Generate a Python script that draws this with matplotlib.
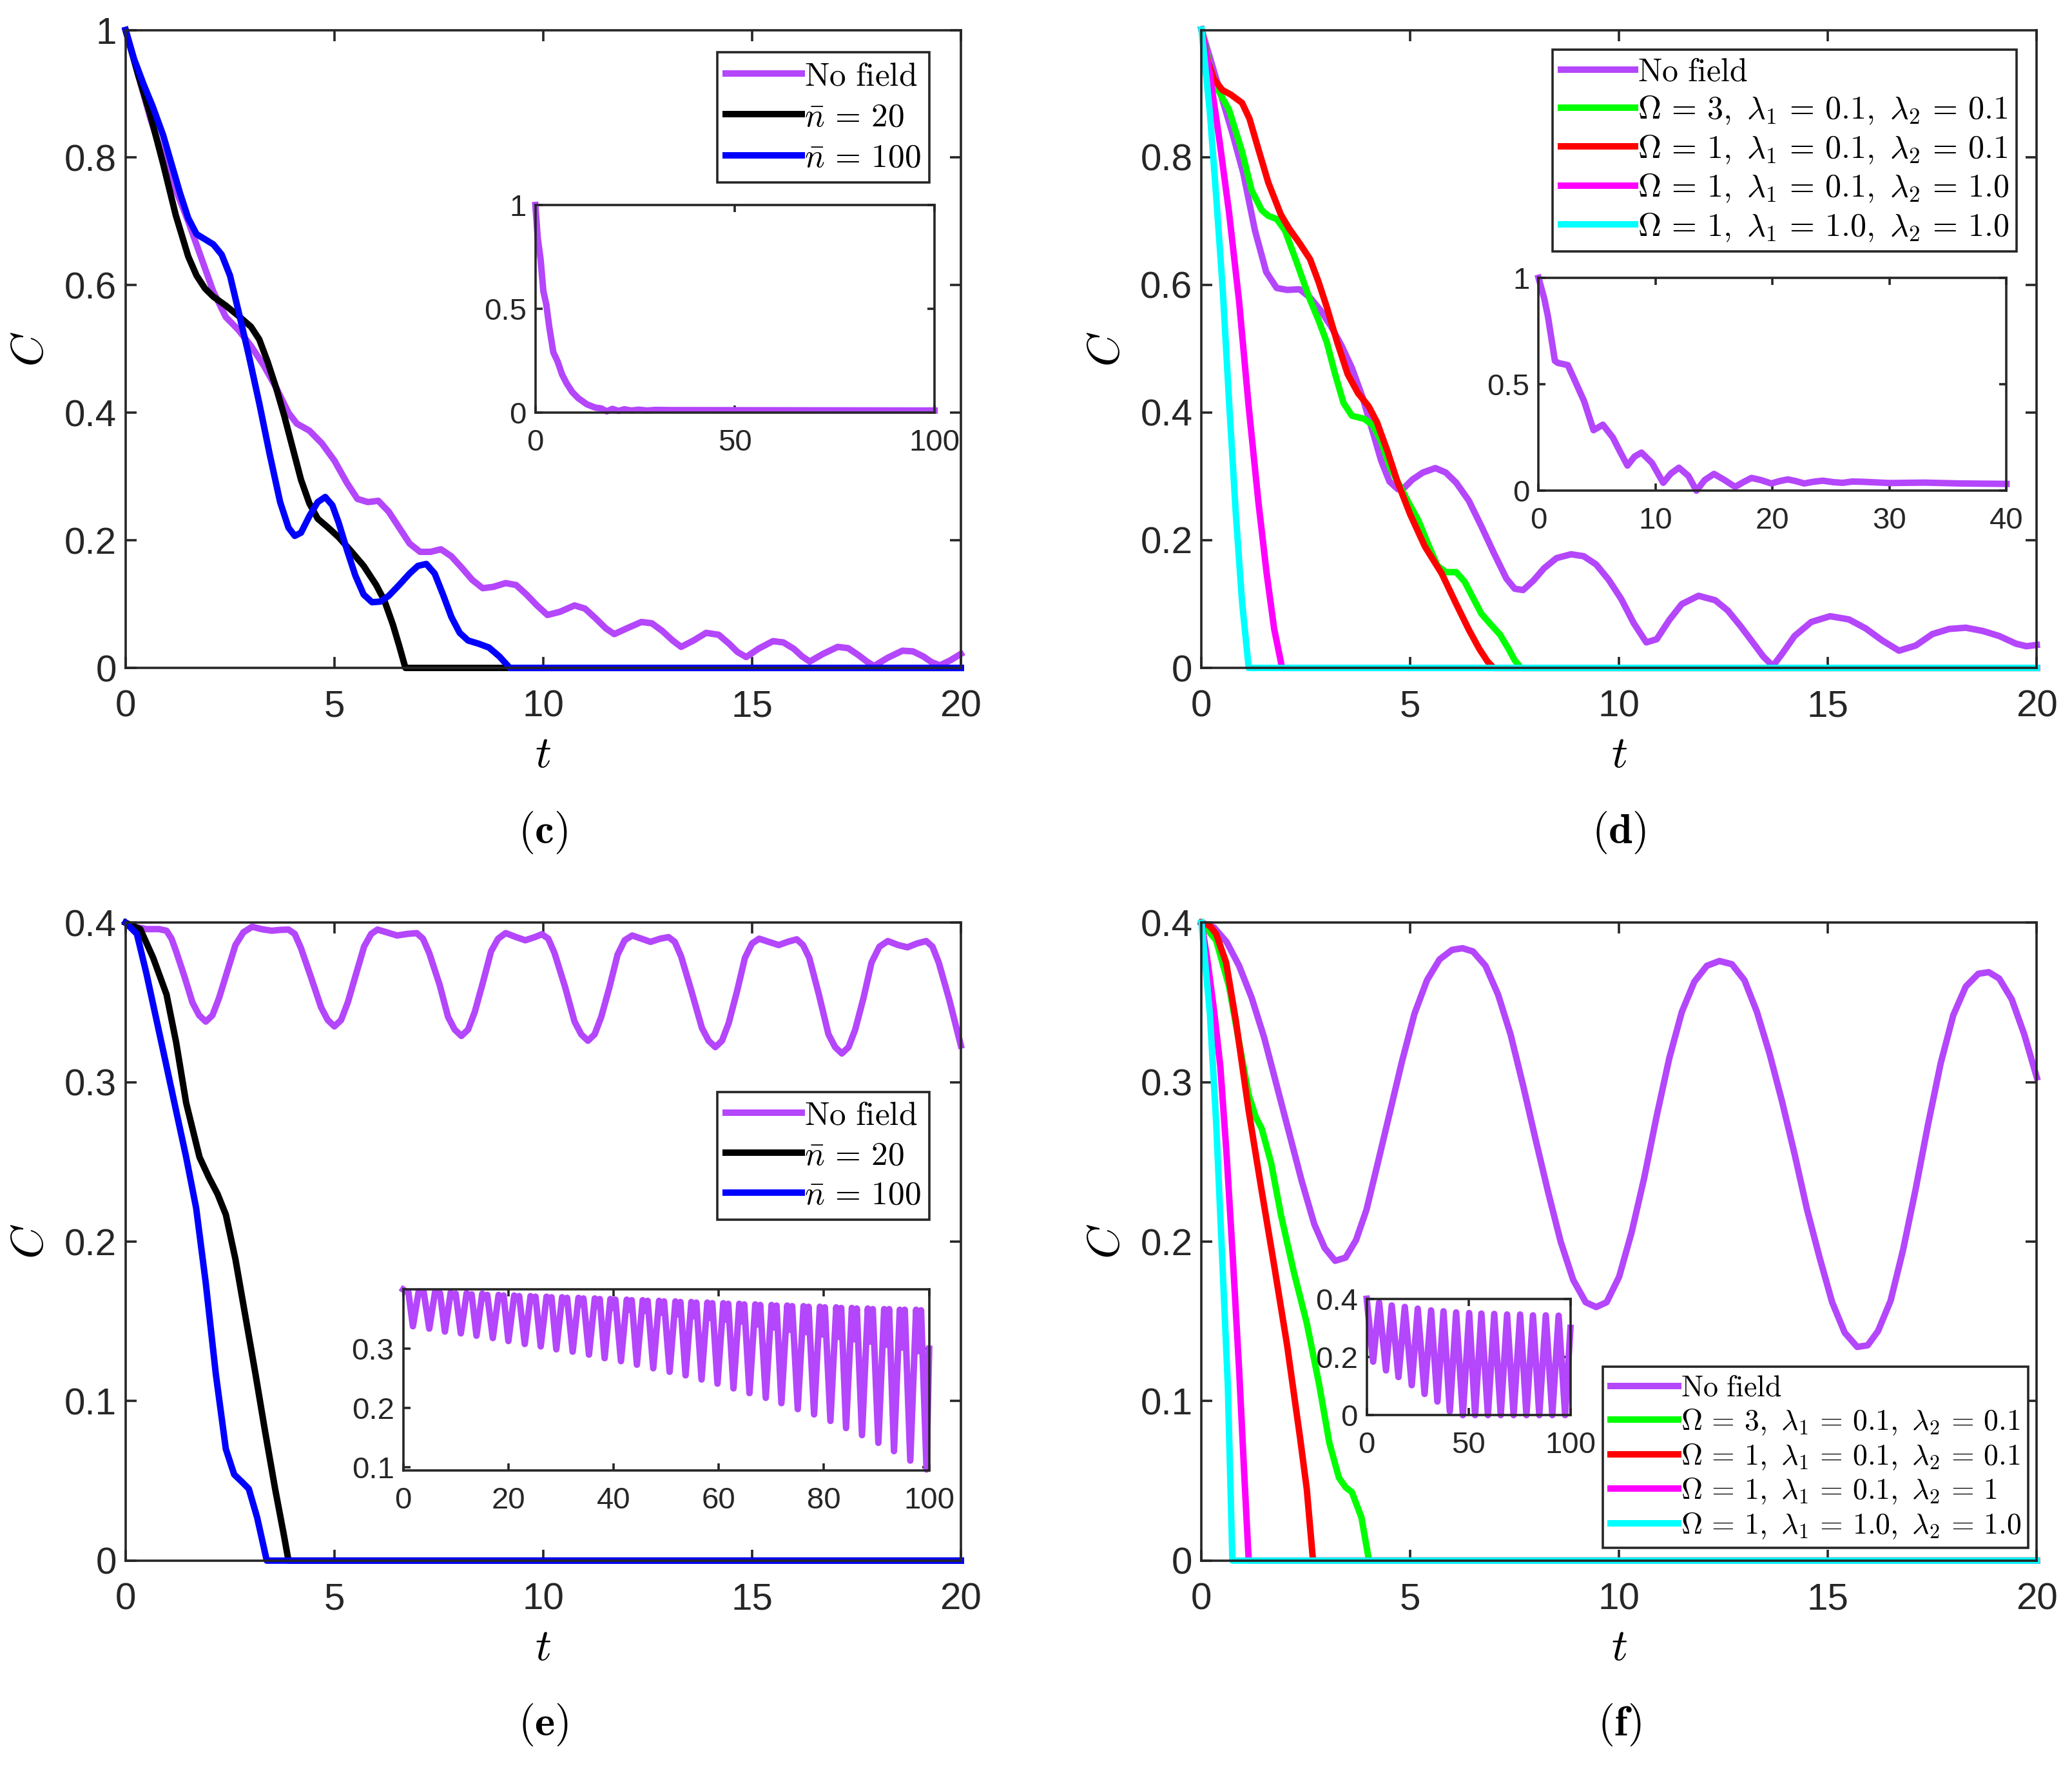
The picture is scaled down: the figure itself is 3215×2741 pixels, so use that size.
import matplotlib
matplotlib.use('Agg')
import matplotlib.pyplot as plt

plt.rcParams['font.family'] = ['Liberation Sans', 'DejaVu Sans']
plt.rcParams['mathtext.fontset'] = 'cm'

# colours
purple = '#b446fb'
black = '#000000'
blue = '#0000ff'
green = '#00ff00'
red = '#ff0000'
magenta = '#ff00ff'
cyan = '#00ffff'
axcol = '#262626'

# ---------------- panel (c) ----------------
c_nofield_t = [0, 0.3, 0.6, 0.9, 1.2, 1.5, 1.8, 2.1, 2.4, 2.7, 3.0, 3.3, 3.6, 3.9, 4.1, 4.4, 4.7, 5.0,
               5.3, 5.55, 5.8, 6.05, 6.3, 6.55, 6.8, 7.05, 7.3, 7.55, 7.8, 8.05, 8.3, 8.55, 8.8, 9.1,
               9.35, 9.6, 9.85, 10.1, 10.4, 10.75, 11.0, 11.25, 11.5, 11.7, 12.0, 12.35, 12.6, 12.85,
               13.1, 13.3, 13.6, 13.9, 14.2, 14.45, 14.65, 14.86, 15.15, 15.5, 15.75, 16.0, 16.2,
               16.38, 16.7, 17.05, 17.3, 17.55, 17.75, 17.92, 18.25, 18.6, 18.85, 19.1, 19.3, 19.5,
               19.75, 20]
c_nofield_c = [1.0, 0.93, 0.86, 0.8, 0.75, 0.70, 0.645, 0.59, 0.55, 0.53, 0.505, 0.475, 0.44, 0.40,
               0.383, 0.372, 0.352, 0.325, 0.29, 0.265, 0.26, 0.262, 0.245, 0.22, 0.195, 0.182, 0.182,
               0.186, 0.175, 0.157, 0.138, 0.125, 0.127, 0.133, 0.13, 0.115, 0.098, 0.083, 0.088,
               0.098, 0.093, 0.078, 0.062, 0.053, 0.062, 0.072, 0.07, 0.058, 0.043, 0.033, 0.043,
               0.055, 0.052, 0.038, 0.025, 0.017, 0.03, 0.042, 0.04, 0.03, 0.018, 0.01, 0.022, 0.033,
               0.031, 0.02, 0.01, 0.003, 0.016, 0.027, 0.026, 0.018, 0.009, 0.004, 0.012, 0.022]
c_n20_t = [0, 0.3, 0.6, 0.9, 1.2, 1.5, 1.7, 1.9, 2.1, 2.4, 2.7, 3.0, 3.2, 3.4, 3.6, 3.8, 4.0, 4.2,
           4.4, 4.6, 4.85, 5.1, 5.4, 5.7, 6.0, 6.2, 6.4, 6.55, 6.7, 20]
c_n20_c = [1.0, 0.93, 0.865, 0.79, 0.71, 0.645, 0.615, 0.595, 0.582, 0.568, 0.552, 0.535, 0.515,
           0.48, 0.44, 0.395, 0.345, 0.295, 0.258, 0.234, 0.22, 0.205, 0.183, 0.16, 0.13, 0.105,
           0.068, 0.035, 0.0, 0.0]
c_n100_t = [0, 0.2, 0.43, 0.65, 0.9, 1.1, 1.3, 1.5, 1.7, 1.9, 2.1, 2.3, 2.5, 2.7, 2.95, 3.2, 3.45,
            3.7, 3.9, 4.05, 4.2, 4.4, 4.6, 4.78, 4.95, 5.1, 5.3, 5.5, 5.7, 5.9, 6.1, 6.3, 6.55, 6.8,
            7.0, 7.2, 7.4, 7.6, 7.8, 8.0, 8.2, 8.45, 8.7, 8.95, 9.2, 20]
c_n100_c = [1.0, 0.955, 0.915, 0.88, 0.835, 0.79, 0.745, 0.705, 0.68, 0.672, 0.664, 0.648, 0.615,
            0.56, 0.49, 0.415, 0.335, 0.26, 0.22, 0.207, 0.212, 0.238, 0.26, 0.268, 0.255, 0.228,
            0.185, 0.145, 0.115, 0.103, 0.104, 0.113, 0.13, 0.148, 0.16, 0.163, 0.148, 0.115, 0.08,
            0.055, 0.043, 0.038, 0.032, 0.018, 0.0, 0.0]
c_inset_t = [0, 0.6, 1.3, 2.0, 2.75, 3.5, 4.5, 5.6, 6.7, 7.8, 9.2, 10.7, 12.9, 15, 16.5, 17.9, 19.3,
             20.8, 22.3, 24, 26, 28, 30, 34, 100]
c_inset_c = [1.0, 0.84, 0.74, 0.585, 0.52, 0.41, 0.29, 0.245, 0.183, 0.142, 0.1, 0.07, 0.04, 0.024,
             0.02, 0.006, 0.018, 0.008, 0.016, 0.01, 0.014, 0.01, 0.013, 0.012, 0.01]

# ---------------- panel (d) ----------------
d_nofield_t = [0, 0.25, 0.5, 0.75, 1.0, 1.28, 1.55, 1.8, 2.05, 2.35, 2.6, 2.85, 3.1, 3.35, 3.6, 3.85,
               4.1, 4.3, 4.5, 4.7, 4.85, 5.05, 5.3, 5.6, 5.85, 6.1, 6.4, 6.7, 7.0, 7.3, 7.5, 7.7,
               7.95, 8.2, 8.5, 8.85, 9.15, 9.45, 9.75, 10.05, 10.35, 10.65, 10.9, 11.2, 11.5, 11.9,
               12.3, 12.6, 12.9, 13.2, 13.45, 13.68, 13.9, 14.2, 14.6, 15.05, 15.5, 15.9, 16.3,
               16.7, 17.1, 17.5, 17.9, 18.3, 18.7, 19.1, 19.5, 19.75, 20]
d_nofield_c = [1.0, 0.945, 0.89, 0.835, 0.775, 0.685, 0.62, 0.595, 0.592, 0.593, 0.58, 0.56, 0.535,
               0.505, 0.47, 0.425, 0.37, 0.325, 0.292, 0.28, 0.282, 0.295, 0.306, 0.313, 0.306,
               0.29, 0.262, 0.222, 0.18, 0.14, 0.124, 0.122, 0.137, 0.156, 0.172, 0.178, 0.175,
               0.162, 0.138, 0.108, 0.07, 0.04, 0.045, 0.075, 0.1, 0.113, 0.106, 0.09, 0.066, 0.04,
               0.018, 0.003, 0.022, 0.05, 0.072, 0.081, 0.076, 0.062, 0.043, 0.027, 0.035, 0.053,
               0.061, 0.063, 0.058, 0.05, 0.038, 0.034, 0.036]
d_w3_t = [0, 0.2, 0.4, 0.66, 0.97, 1.2, 1.44, 1.6, 1.8, 2.0, 2.28, 2.59, 2.8, 3.0, 3.2, 3.4, 3.6,
          3.9, 4.1, 4.3, 4.52, 4.75, 4.95, 5.2, 5.45, 5.65, 5.85, 6.1, 6.3, 6.5, 6.7, 6.9, 7.15,
          7.35, 7.5, 7.65, 20]
d_w3_c = [1.0, 0.94, 0.905, 0.874, 0.809, 0.748, 0.717, 0.708, 0.703, 0.685, 0.635, 0.578, 0.545,
          0.51, 0.46, 0.415, 0.395, 0.39, 0.38, 0.355, 0.313, 0.285, 0.26, 0.23, 0.19, 0.16, 0.15,
          0.15, 0.135, 0.11, 0.085, 0.07, 0.052, 0.03, 0.012, 0.0, 0.0]
d_w1_t = [0, 0.15, 0.3, 0.5, 0.7, 0.97, 1.15, 1.35, 1.6, 1.9, 2.1, 2.35, 2.6, 2.8, 3.0, 3.25, 3.5,
          3.75, 4.0, 4.2, 4.45, 4.7, 5.0, 5.35, 5.75, 6.1, 6.4, 6.65, 6.85, 7.0, 20]
d_w1_c = [1.0, 0.95, 0.922, 0.905, 0.898, 0.885, 0.86, 0.815, 0.76, 0.71, 0.688, 0.665, 0.64,
          0.605, 0.565, 0.51, 0.46, 0.43, 0.41, 0.385, 0.34, 0.29, 0.24, 0.19, 0.148, 0.1, 0.06,
          0.03, 0.01, 0.0, 0.0]
d_l2_t = [0, 0.2, 0.43, 0.66, 0.9, 1.13, 1.36, 1.56, 1.74, 1.93, 20]
d_l2_c = [1.0, 0.93, 0.826, 0.713, 0.574, 0.409, 0.261, 0.148, 0.061, 0.0, 0.0]
d_l12_t = [0, 0.2, 0.35, 0.51, 0.66, 0.82, 0.97, 1.13, 20]
d_l12_c = [1.0, 0.87, 0.74, 0.591, 0.417, 0.243, 0.104, 0.0, 0.0]
d_inset_t = [0, 0.5, 0.8, 1.4, 1.66, 2.5, 3.0, 3.9, 4.7, 5.5, 6.35, 7.0, 7.6, 8.2, 8.8, 9.7, 10.66,
             11.3, 12.0, 12.8, 13.5, 14.2, 15.0, 15.9, 16.8, 17.5, 18.2, 19.0, 19.9, 20.6, 21.3,
             22.0, 22.7, 23.5, 24.3, 25.2, 26.0, 26.8, 27.6, 30, 33, 36, 40]
d_inset_c = [1.0, 0.9, 0.82, 0.61, 0.6, 0.59, 0.53, 0.42, 0.284, 0.31, 0.25, 0.18, 0.118, 0.16,
             0.179, 0.13, 0.037, 0.08, 0.108, 0.07, 0.0, 0.05, 0.079, 0.05, 0.018, 0.04, 0.06, 0.05,
             0.034, 0.045, 0.053, 0.045, 0.034, 0.042, 0.047, 0.04, 0.037, 0.043, 0.042, 0.036,
             0.038, 0.034, 0.032]

# ---------------- panel (e) ----------------
e_nofield_t = [0, 0.2, 0.5, 0.8, 0.98, 1.1, 1.21, 1.4, 1.6, 1.76, 1.92,
               2.08, 2.24, 2.44, 2.63, 2.82, 3.03, 3.25, 3.5, 3.7, 3.9,
               4.05, 4.2, 4.45, 4.68, 4.84, 5.0,
               5.16, 5.32, 5.52, 5.71, 5.88, 6.03, 6.25, 6.5, 6.75, 6.97,
               7.12, 7.27, 7.52, 7.72, 7.88, 8.04,
               8.2, 8.36, 8.56, 8.75, 8.92, 9.1, 9.35, 9.57, 9.8, 9.97,
               10.12, 10.27, 10.52, 10.75, 10.91, 11.07,
               11.23, 11.39, 11.59, 11.78, 11.95, 12.13, 12.35, 12.57, 12.8, 13.0,
               13.15, 13.3, 13.55, 13.8, 13.96, 14.12,
               14.28, 14.44, 14.64, 14.83, 15.0, 15.17, 15.4, 15.64, 15.85, 16.07,
               16.22, 16.37, 16.6, 16.83, 16.99, 17.15,
               17.31, 17.47, 17.67, 17.86, 18.05, 18.25, 18.5, 18.72, 18.95, 19.17,
               19.32, 19.47, 19.72, 20.0]
e_nofield_c = [0.4, 0.3975, 0.396, 0.396, 0.395, 0.39, 0.382, 0.367, 0.35, 0.342, 0.338,
               0.342, 0.353, 0.37, 0.386, 0.394, 0.3975, 0.396, 0.395, 0.3955, 0.3957,
               0.393, 0.384, 0.365, 0.347, 0.339, 0.335,
               0.339, 0.35, 0.368, 0.385, 0.393, 0.3957, 0.394, 0.392, 0.393, 0.3935,
               0.39, 0.381, 0.361, 0.341, 0.333, 0.329,
               0.333, 0.344, 0.363, 0.382, 0.39, 0.3935, 0.391, 0.389, 0.391, 0.3928,
               0.39, 0.381, 0.36, 0.338, 0.33, 0.326,
               0.33, 0.341, 0.36, 0.38, 0.389, 0.392, 0.39, 0.388, 0.39, 0.391,
               0.388, 0.379, 0.357, 0.334, 0.326, 0.322,
               0.326, 0.337, 0.357, 0.378, 0.387, 0.39, 0.388, 0.386, 0.388, 0.3896,
               0.386, 0.378, 0.355, 0.33, 0.322, 0.318,
               0.322, 0.333, 0.353, 0.375, 0.385, 0.3885, 0.386, 0.3846, 0.387, 0.3885,
               0.385, 0.375, 0.352, 0.323]
e_n20_t = [0, 0.35, 0.66, 0.98, 1.21, 1.45, 1.77, 2.0, 2.2, 2.4, 2.63, 2.87, 3.11, 3.34, 3.58, 3.79,
           3.9, 20]
e_n20_c = [0.4, 0.396, 0.378, 0.355, 0.325, 0.287, 0.253, 0.24, 0.23, 0.217, 0.189, 0.153, 0.117,
           0.081, 0.045, 0.016, 0.0, 0.0]
e_n100_t = [0, 0.27, 0.5, 0.74, 0.98, 1.21, 1.45, 1.69, 1.92, 2.16, 2.4, 2.6, 2.8, 2.95, 3.15, 3.38,
            20]
e_n100_c = [0.4, 0.393, 0.368, 0.339, 0.31, 0.282, 0.253, 0.221, 0.174, 0.117, 0.07, 0.054, 0.049,
            0.045, 0.027, 0.0, 0.0]
e_inset_t = [0, 0.5, 1.0, 1.86,
             2.96, 3.41, 3.91, 4.97, 6.07, 6.52, 7.02, 7.94, 9.04, 9.49, 9.99, 10.97,
             12.07, 12.52, 13.02, 13.94, 15.04, 15.49, 15.99, 17.05, 18.15, 18.6, 19.1, 20.01,
             21.11, 21.56, 22.06, 23.12, 24.22, 24.67, 25.17, 26.16, 27.26, 27.71, 28.21, 29.12,
             30.22, 30.67, 31.17, 32.23, 33.33, 33.78, 34.28, 35.33, 36.43, 36.88, 37.38, 38.3,
             39.4, 39.85, 40.35, 41.41, 42.51, 42.96, 43.46, 44.44, 45.54, 45.99, 46.49, 47.55,
             48.65, 49.1, 49.6, 50.66, 51.76, 52.21, 52.71, 53.69, 54.79, 55.24, 55.74, 56.73,
             57.83, 58.28, 58.78, 59.76, 60.86, 61.31, 61.81, 62.8, 63.9, 64.35, 64.85, 65.84,
             66.94, 67.39, 67.89, 68.94, 70.04, 70.49, 70.99, 71.91, 73.01, 73.46, 73.96, 75.02,
             76.12, 76.57, 77.07, 78.12, 79.22, 79.67, 80.17, 81.23, 82.33, 82.78, 83.28, 84.2,
             85.3, 85.75, 86.25, 87.23, 88.33, 88.78, 89.28, 90.34, 91.44, 91.89, 92.39, 93.31,
             94.41, 94.86, 95.36, 96.41, 97.51, 97.96, 98.46, 99.5, 100]
e_inset_c = [0.4, 0.397, 0.396, 0.338,
             0.397, 0.395, 0.396, 0.334, 0.396, 0.392, 0.394, 0.329, 0.395, 0.389, 0.393, 0.326,
             0.394, 0.388, 0.392, 0.322, 0.393, 0.386, 0.391, 0.318, 0.391, 0.385, 0.390, 0.313,
             0.390, 0.384, 0.389, 0.308, 0.389, 0.382, 0.388, 0.304, 0.388, 0.380, 0.387, 0.299,
             0.387, 0.378, 0.386, 0.295, 0.386, 0.375, 0.385, 0.290, 0.385, 0.372, 0.384, 0.284,
             0.384, 0.369, 0.383, 0.279, 0.383, 0.366, 0.382, 0.273, 0.382, 0.364, 0.381, 0.267,
             0.381, 0.361, 0.380, 0.261, 0.380, 0.358, 0.379, 0.255, 0.379, 0.355, 0.378, 0.248,
             0.378, 0.352, 0.377, 0.241, 0.377, 0.349, 0.376, 0.233, 0.376, 0.346, 0.375, 0.225,
             0.375, 0.341, 0.374, 0.217, 0.374, 0.336, 0.373, 0.208, 0.373, 0.332, 0.372, 0.198,
             0.372, 0.328, 0.371, 0.189, 0.371, 0.324, 0.370, 0.178, 0.370, 0.320, 0.369, 0.166,
             0.369, 0.316, 0.368, 0.154, 0.368, 0.312, 0.367, 0.141, 0.367, 0.307, 0.367, 0.127,
             0.366, 0.302, 0.366, 0.111, 0.366, 0.296, 0.365, 0.096, 0.3]

# ---------------- panel (f) ----------------
f_nofield_t = [0, 0.3, 0.6, 0.9, 1.2, 1.5, 1.8, 2.1, 2.4, 2.7, 2.95, 3.2, 3.45, 3.7, 3.95, 4.2, 4.5,
               4.8, 5.1, 5.4, 5.7, 6.0, 6.25, 6.5, 6.8, 7.1, 7.4, 7.7, 8.0, 8.3, 8.6, 8.9, 9.2, 9.45,
               9.7, 10.0, 10.3, 10.6, 10.9, 11.2, 11.5, 11.8, 12.1, 12.4, 12.7, 13.0, 13.3, 13.6,
               13.9, 14.2, 14.5, 14.8, 15.1, 15.4, 15.7, 15.95, 16.2, 16.5, 16.8, 17.1, 17.4, 17.7,
               18.0, 18.3, 18.6, 18.85, 19.1, 19.4, 19.7, 20]
f_nofield_c = [0.4, 0.397, 0.388, 0.373, 0.353, 0.328, 0.298, 0.268, 0.238, 0.211, 0.196, 0.188,
               0.19, 0.201, 0.22, 0.247, 0.28, 0.313, 0.343, 0.364, 0.377, 0.383, 0.384, 0.382,
               0.373, 0.355, 0.33, 0.298, 0.264, 0.231, 0.2, 0.176, 0.162, 0.159, 0.162, 0.178,
               0.206, 0.24, 0.279, 0.315, 0.344, 0.363, 0.373, 0.376, 0.374, 0.364, 0.344, 0.318,
               0.288, 0.255, 0.22, 0.19, 0.162, 0.143, 0.134, 0.135, 0.144, 0.163, 0.195, 0.233,
               0.274, 0.312, 0.342, 0.36, 0.368, 0.369, 0.365, 0.352, 0.33, 0.303]
f_w3_t = [0, 0.35, 0.66, 0.9, 1.13, 1.3, 1.44, 1.67, 1.9, 2.21, 2.52, 2.82, 3.06, 3.29, 3.45, 3.6,
          3.83, 4.01, 20]
f_w3_c = [0.4, 0.389, 0.36, 0.325, 0.292, 0.278, 0.271, 0.249, 0.217, 0.181, 0.149, 0.11, 0.074,
          0.052, 0.046, 0.043, 0.027, 0.0, 0.0]
f_w1_t = [0, 0.2, 0.35, 0.59, 0.82, 1.13, 1.44, 1.74, 2.05, 2.36, 2.52, 2.67, 20]
f_w1_c = [0.4, 0.398, 0.393, 0.375, 0.339, 0.282, 0.232, 0.185, 0.135, 0.077, 0.045, 0.0, 0.0]
f_l2_t = [0, 0.15, 0.3, 0.45, 0.6, 0.75, 0.9, 1.02, 1.13, 20]
f_l2_c = [0.4, 0.375, 0.345, 0.31, 0.255, 0.19, 0.12, 0.056, 0.0, 0.0]
f_l12_t = [0, 0.2, 0.35, 0.51, 0.63, 0.74, 20]
f_l12_c = [0.4, 0.343, 0.275, 0.181, 0.11, 0.0, 0.0]
f_inset_t = [0, 3.16, 6.1, 9.47, 12.3, 15.6, 18.7, 22.1, 25.05, 28.4, 31.6, 34.7, 37.7, 40.8, 43.9,
             47.2, 50.3, 53.2, 56.3, 59.5, 62.6, 65.8, 68.9, 72.1, 75.3, 78.4, 81.6, 84.7, 87.9,
             91.1, 94.2, 97.4, 100]
f_inset_c = [0.4, 0.184, 0.387, 0.154, 0.377, 0.131, 0.372, 0.103, 0.366, 0.073, 0.36, 0.047, 0.357,
             0.013, 0.353, 0.0, 0.351, 0.0, 0.349, 0.0, 0.348, 0.0, 0.346, 0.0, 0.346, 0.0, 0.343,
             0.0, 0.343, 0.0, 0.342, 0.0, 0.3]

leg_nbar = ['$\\mathrm{No\\ field}$', '$\\bar{n}\\,=\\,20$', '$\\bar{n}\\,=\\,100$']
leg_d = ['$\\mathrm{No\\ field}$',
         '$\\Omega\\,=\\,3,\\ \\lambda_1\\,=\\,0.1,\\ \\lambda_2\\,=\\,0.1$',
         '$\\Omega\\,=\\,1,\\ \\lambda_1\\,=\\,0.1,\\ \\lambda_2\\,=\\,0.1$',
         '$\\Omega\\,=\\,1,\\ \\lambda_1\\,=\\,0.1,\\ \\lambda_2\\,=\\,1.0$',
         '$\\Omega\\,=\\,1,\\ \\lambda_1\\,=\\,1.0,\\ \\lambda_2\\,=\\,1.0$']
leg_f = ['$\\mathrm{No\\ field}$',
         '$\\Omega\\,=\\,3,\\ \\lambda_1\\,=\\,0.1,\\ \\lambda_2\\,=\\,0.1$',
         '$\\Omega\\,=\\,1,\\ \\lambda_1\\,=\\,0.1,\\ \\lambda_2\\,=\\,0.1$',
         '$\\Omega\\,=\\,1,\\ \\lambda_1\\,=\\,0.1,\\ \\lambda_2\\,=\\,1$',
         '$\\Omega\\,=\\,1,\\ \\lambda_1\\,=\\,1.0,\\ \\lambda_2\\,=\\,1.0$']

LW = 3.6


def style(ax, fs, tl, xpad, ypad):
    for s in ax.spines.values():
        s.set_linewidth(1.3)
        s.set_color(axcol)
    ax.tick_params(direction='in', top=True, right=True, length=tl, width=1.3,
                   colors=axcol, labelsize=fs)
    ax.tick_params(axis='x', pad=xpad)
    ax.tick_params(axis='y', pad=ypad)


def main_axes(rect, ylim, yticks, label):
    ax = fig.add_axes(rect)
    ax.set_xlim(0, 20)
    ax.set_ylim(*ylim)
    ax.set_xticks([0, 5, 10, 15, 20])
    ax.set_yticks(yticks)
    ax.set_yticklabels([('%g' % v) for v in yticks])
    style(ax, 21, 6, 12, 5)
    ax.set_xlabel('$t$', fontsize=25, labelpad=6)
    ax.set_ylabel('$C$', fontsize=25, labelpad=7)
    fig.text(rect[0] + rect[2] / 2, rect[1] - 0.093, '$(\\mathbf{' + label + '})$',
             ha='center', va='center', fontsize=24)
    return ax


def inset_axes(rect, xlim, xticks, ylim, yticks):
    ax = fig.add_axes(rect)
    ax.set_xlim(*xlim)
    ax.set_ylim(*ylim)
    ax.set_xticks(xticks)
    ax.set_yticks(yticks)
    ax.set_yticklabels([('%g' % v) for v in yticks])
    style(ax, 17, 4, 9, 5)
    return ax


def legend(ax, labels, fs, sp, **kw):
    lg = ax.legend(labels, fontsize=fs, handlelength=2.3, handletextpad=0.08, labelspacing=sp,
                   borderpad=0.25, borderaxespad=0, fancybox=False, framealpha=1, **kw)
    lg.get_frame().set_edgecolor(axcol)
    lg.get_frame().set_linewidth(1.3)
    return lg


fig = plt.figure(figsize=(16.08, 13.705), dpi=200)

# (c)
ax = main_axes([0.0606, 0.622, 0.403, 0.361], (0, 1), [0, 0.2, 0.4, 0.6, 0.8, 1], 'c')
ax.plot(c_nofield_t, c_nofield_c, color=purple, lw=LW, clip_on=False)
ax.plot(c_n20_t, c_n20_c, color=black, lw=LW, clip_on=False)
ax.plot(c_n100_t, c_n100_c, color=blue, lw=LW, clip_on=False)
legend(ax, leg_nbar, 18.5, 0.28, loc='upper right', bbox_to_anchor=(0.962, 0.965))
ins = inset_axes([0.2583, 0.7665, 0.1926, 0.1175], (0, 100), [0, 50, 100], (0, 1), [0, 0.5, 1])
ins.plot(c_inset_t, c_inset_c, color=purple, lw=LW, clip_on=False)

# (d)
ax = main_axes([0.5797, 0.622, 0.403, 0.361], (0, 0.999), [0, 0.2, 0.4, 0.6, 0.8], 'd')
ax.plot(d_nofield_t, d_nofield_c, color=purple, lw=LW, clip_on=False)
ax.plot(d_w3_t, d_w3_c, color=green, lw=LW, clip_on=False)
ax.plot(d_w1_t, d_w1_c, color=red, lw=LW, clip_on=False)
ax.plot(d_l2_t, d_l2_c, color=magenta, lw=LW, clip_on=False)
ax.plot(d_l12_t, d_l12_c, color=cyan, lw=LW, clip_on=False)
legend(ax, leg_d, 18, 0.2, loc='upper right', bbox_to_anchor=(0.976, 0.969))
ins = inset_axes([0.7423, 0.7223, 0.2258, 0.1205], (0, 40), [0, 10, 20, 30, 40], (0, 1), [0, 0.5, 1])
ins.plot(d_inset_t, d_inset_c, color=purple, lw=LW, clip_on=False)

# (e)
ax = main_axes([0.0606, 0.1168, 0.403, 0.361], (0, 0.4), [0, 0.1, 0.2, 0.3, 0.4], 'e')
ax.plot(e_nofield_t, e_nofield_c, color=purple, lw=LW, clip_on=False)
ax.plot(e_n20_t, e_n20_c, color=black, lw=LW, clip_on=False)
ax.plot(e_n100_t, e_n100_c, color=blue, lw=LW, clip_on=False)
legend(ax, leg_nbar, 18.5, 0.25, loc='upper right', bbox_to_anchor=(0.962, 0.735))
ins = inset_axes([0.1945, 0.1677, 0.2538, 0.1025], (0, 100), [0, 20, 40, 60, 80, 100],
                 (0.094, 0.4), [0.1, 0.2, 0.3])
ins.plot(e_inset_t, e_inset_c, color=purple, lw=LW, clip_on=False)

# (f)
ax = main_axes([0.5797, 0.1168, 0.403, 0.361], (0, 0.4), [0, 0.1, 0.2, 0.3, 0.4], 'f')
ax.plot(f_nofield_t, f_nofield_c, color=purple, lw=LW, clip_on=False)
ax.plot(f_w3_t, f_w3_c, color=green, lw=LW, clip_on=False)
ax.plot(f_w1_t, f_w1_c, color=red, lw=LW, clip_on=False)
ax.plot(f_l2_t, f_l2_c, color=magenta, lw=LW, clip_on=False)
ax.plot(f_l12_t, f_l12_c, color=cyan, lw=LW, clip_on=False)
legend(ax, leg_f, 16.5, 0.15, loc='lower right', bbox_to_anchor=(0.99, 0.02))
ins = inset_axes([0.6594, 0.1991, 0.0983, 0.0659], (0, 100), [0, 50, 100], (0, 0.4), [0, 0.2, 0.4])
ins.plot(f_inset_t, f_inset_c, color=purple, lw=LW, clip_on=False)

fig.savefig('out.png', dpi=200)
